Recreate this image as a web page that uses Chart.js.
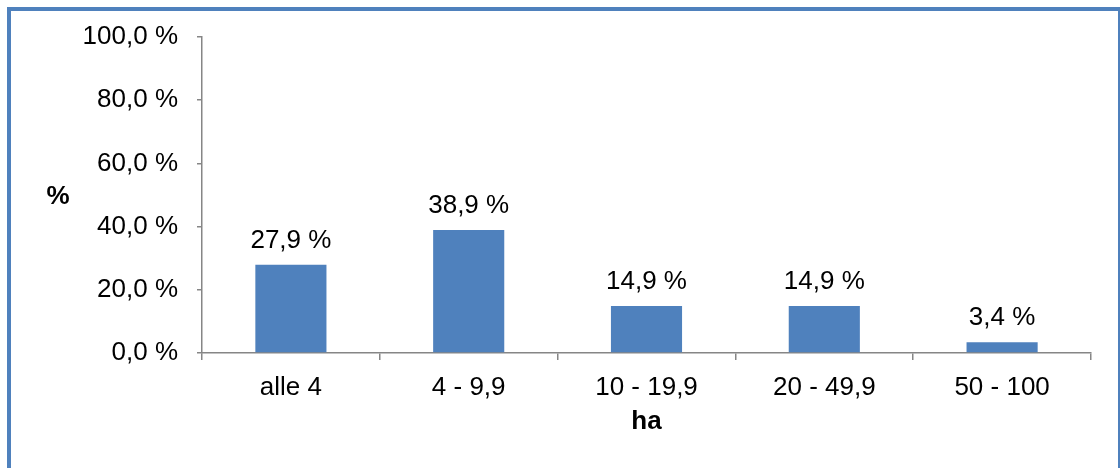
<!DOCTYPE html>
<html>
<head>
<meta charset="utf-8">
<script src="https://cdn.jsdelivr.net/npm/chart.js@4"></script>
<style>
  html, body { margin: 0; padding: 0; background: #fff; }
  #wrap { width: 1120px; height: 468px; }
</style>
</head>
<body>
<div id="wrap"><canvas id="myChart" width="1120" height="468"></canvas></div>
<script>
const categories = ["alle 4", "4 - 9,9", "10 - 19,9", "20 - 49,9", "50 - 100"];
const shares = [27.9, 38.9, 14.9, 14.9, 3.4];
const yTicks = [0, 20, 40, 60, 80, 100];
const yTickLabels = ["0,0 %", "20,0 %", "40,0 %", "60,0 %", "80,0 %", "100,0 %"];

const blue = "#4F81BD";
const axisGray = "#868686";
const font = "Liberation Sans, Arial, sans-serif";

// blue frame round the chart + horizontal "%" title + value labels
const extras = {
  id: "extras",
  beforeDraw(chart) {
    const c = chart.ctx;
    c.save();
    c.fillStyle = "#fff";
    c.fillRect(0, 0, chart.width, chart.height);
    c.fillStyle = blue;
    c.fillRect(7, 7, 4, chart.height);
    c.fillRect(7, 7, chart.width, 4);
    c.fillRect(1118, 7, 2, chart.height);
    c.restore();
  },
  afterDatasetsDraw(chart) {
    const c = chart.ctx;
    c.save();
    c.fillStyle = "#000";
    c.font = "bold 26px " + font;
    c.textAlign = "center";
    c.textBaseline = "middle";
    c.fillText("%", 58, 197);
    c.font = "26px " + font;
    c.textBaseline = "alphabetic";
    chart.getDatasetMeta(0).data.forEach((bar, i) => {
      c.fillText(shares[i].toFixed(1).replace(".", ",") + " %", bar.x, bar.y - 17);
    });
    c.restore();
  }
};

new Chart(document.getElementById("myChart"), {
  type: "bar",
  data: {
    labels: categories,
    datasets: [{
      data: shares,
      backgroundColor: blue,
      borderWidth: 0,
      categoryPercentage: 1,
      barPercentage: 0.4,
    }],
  },
  options: {
    responsive: false,
    animation: false,
    events: [],
    layout: { padding: { left: 0, top: 37, right: 29, bottom: 0 } },
    plugins: { legend: { display: false }, tooltip: { enabled: false } },
    scales: {
      x: {
        afterFit(s) { s.height = 115; },
        grid: { drawOnChartArea: false, color: axisGray, tickLength: 7, lineWidth: 1.5 },
        border: { color: axisGray, width: 1.5 },
        ticks: { color: "#000", font: { family: font, size: 26 }, padding: 12, maxRotation: 0 },
        title: {
          display: true, text: "ha", color: "#000",
          font: { family: font, size: 26, weight: "bold" },
          padding: { top: 0, bottom: 31 },
        },
      },
      y: {
        min: 0,
        max: 100,
        afterFit(s) { s.width = 202; },
        afterBuildTicks(s) { s.ticks = yTicks.map(v => ({ value: v })); },
        grid: { drawOnChartArea: false, color: axisGray, tickLength: 5, lineWidth: 1.5 },
        border: { color: axisGray, width: 1.5 },
        ticks: {
          color: "#000",
          font: { family: font, size: 26 },
          padding: 19,
          callback: (v) => yTickLabels[yTicks.indexOf(v)],
        },
      },
    },
  },
  plugins: [extras],
});
</script>
</body>
</html>
